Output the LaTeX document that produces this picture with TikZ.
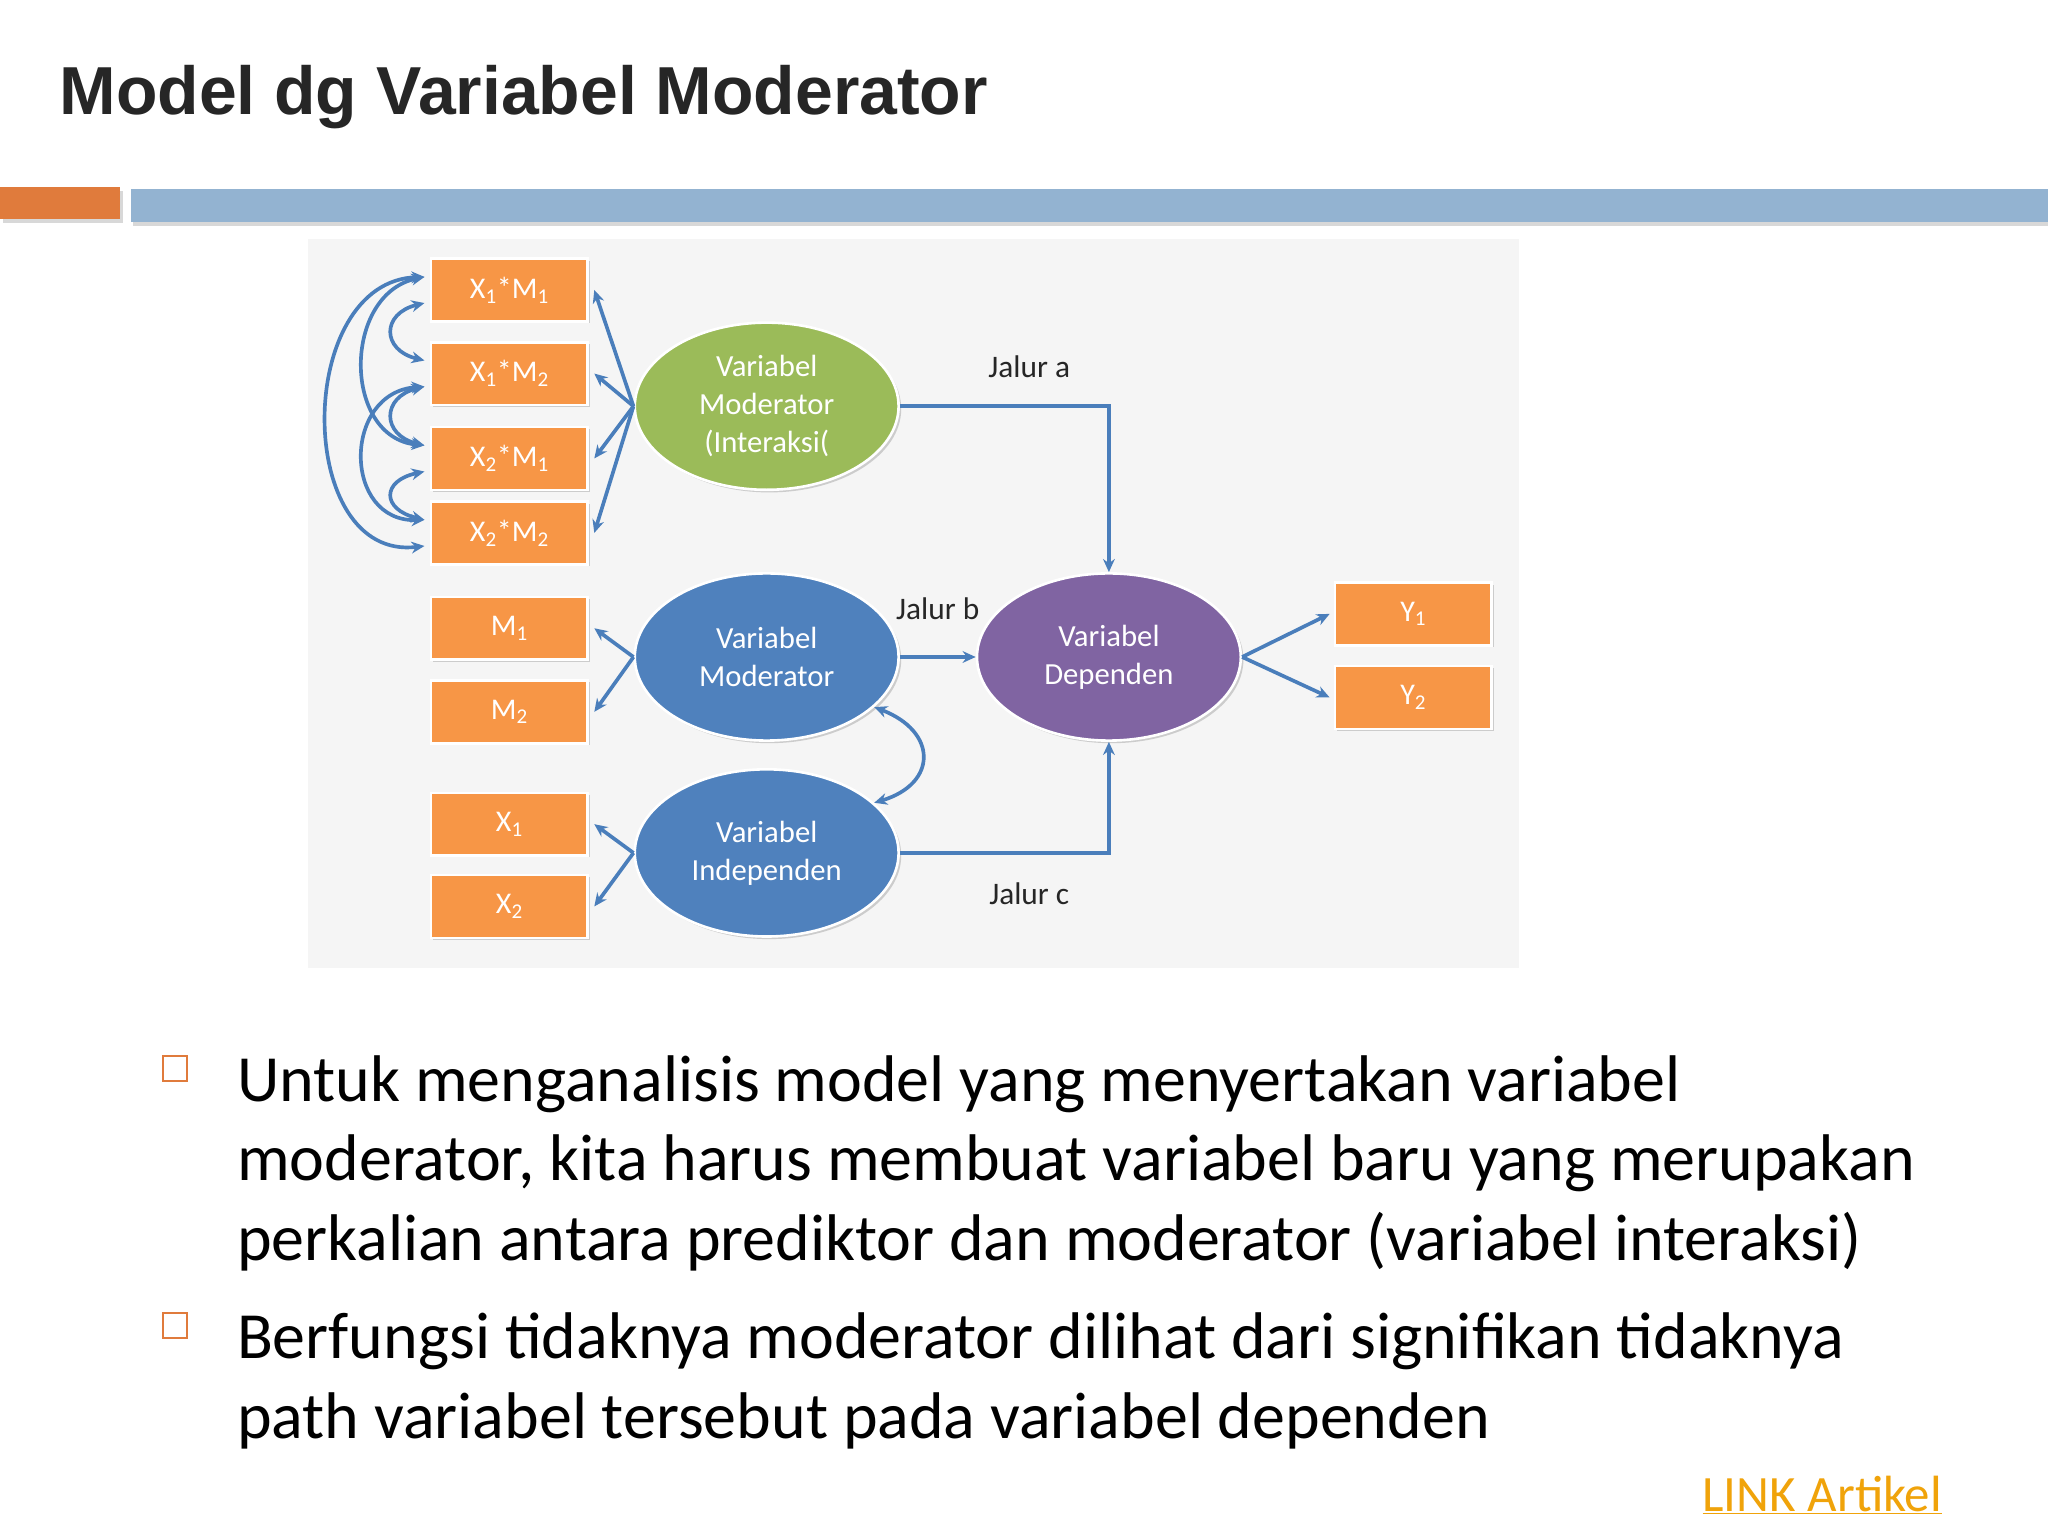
\documentclass[tikz,border=0pt]{standalone}
\usepackage{fontspec}
\setmainfont{Carlito}
\newfontfamily\titlefont{Liberation Sans}
\usetikzlibrary{shapes.geometric,shadows,arrows.meta}
\definecolor{org}{HTML}{F79646}
\definecolor{blu}{HTML}{4F81BD}
\definecolor{grn}{HTML}{9BBB59}
\definecolor{pur}{HTML}{8064A2}
\definecolor{arr}{HTML}{4A7EBB}
\definecolor{barblue}{HTML}{93B3D1}
\definecolor{barorg}{HTML}{E07B3C}
\definecolor{linkc}{HTML}{F0A30A}
\newcommand{\sbs}[1]{\textsubscript{#1}}
\tikzset{
  box/.style={draw=white,line width=2pt,fill=org,minimum width=120pt,minimum height=48pt,inner sep=0pt,text=white,font=\fontsize{23}{25}\selectfont,drop shadow={shadow xshift=1.5pt,shadow yshift=-1.5pt,opacity=0.35}},
  ell/.style={ellipse,draw=white,line width=2pt,minimum width=202pt,minimum height=128pt,inner sep=0pt,text=white,align=center,font=\fontsize{23.5}{29}\selectfont,drop shadow={shadow xshift=2pt,shadow yshift=-2pt,opacity=0.35}},
  con/.style={draw=arr,line width=2.8pt,-{Stealth[length=10pt,width=9pt]}},
  dcon/.style={draw=arr,line width=2.8pt,{Stealth[length=10pt,width=9pt]}-{Stealth[length=10pt,width=9pt]}},
  lab/.style={font=\fontsize{24}{26}\selectfont,text=black!85},
  txt/.style={anchor=base west,font=\fontsize{50.5}{55}\selectfont,text=black},
  bul/.style={draw=barorg,line width=1.5pt,minimum size=19pt,inner sep=0pt}
}
\begin{document}
\begin{tikzpicture}[x=1pt,y=-1pt]
\useasboundingbox[fill=white] (0,0) rectangle (1568,1176);
\node[anchor=base west,font=\titlefont\bfseries\fontsize{52}{56}\selectfont,text=black!85] (title) at (42,88) {Model dg Variabel Moderator};
\fill[barorg,drop shadow={shadow xshift=2pt,shadow yshift=-3pt,opacity=0.3}] (0,143) rectangle (92,168);
\fill[barblue,drop shadow={shadow xshift=2pt,shadow yshift=-3pt,opacity=0.3}] (100,145) rectangle (1568,170);
\fill[black!4] (236,183) rectangle (1163,741);
% boxes
\node[box] (xm11) at (390,222) {X\sbs{1}*M\sbs{1}};
\node[box] (xm12) at (390,286) {X\sbs{1}*M\sbs{2}};
\node[box] (xm21) at (390,351) {X\sbs{2}*M\sbs{1}};
\node[box] (xm22) at (390,408) {X\sbs{2}*M\sbs{2}};
\node[box] (m1) at (390,481) {M\sbs{1}};
\node[box] (m2) at (390,545) {M\sbs{2}};
\node[box] (x1) at (390,631) {X\sbs{1}};
\node[box] (x2) at (390,694) {X\sbs{2}};
\node[box] (y1) at (1082,470) {Y\sbs{1}};
\node[box] (y2) at (1082,534) {Y\sbs{2}};
% ellipses
\node[ell,fill=grn] (vmi) at (587,311) {Variabel\\Moderator\\(Interaksi(};
\node[ell,fill=blu] (vm) at (587,503) {Variabel\\Moderator};
\node[ell,fill=blu] (vi) at (587,653) {Variabel\\Independen};
\node[ell,fill=pur] (vd) at (849,503) {Variabel\\Dependen};
% arrows from ellipses to boxes
\foreach \b in {xm11,xm12,xm21,xm22} \draw[con] (vmi.west) -- ([xshift=4pt]\b.east);
\foreach \b in {m1,m2} \draw[con] (vm.west) -- ([xshift=4pt]\b.east);
\foreach \b in {x1,x2} \draw[con] (vi.west) -- ([xshift=4pt]\b.east);
\foreach \b in {y1,y2} \draw[con] (vd.east) -- ([xshift=-3pt]\b.west);
% paths
\draw[con] (vmi.east) -| (vd.north);
\draw[con] (vm.east) -- (vd.west);
\draw[con] (vi.east) -| (vd.south);
\node[lab] (ja) at (788,281) {Jalur a};
\node[lab] (jb) at (718,466) {Jalur b};
\node[lab] (jc) at (788,684) {Jalur c};
\draw[dcon] (vm.-25) .. controls (718,560) and (718,600) .. (vi.25);
% left correlations
\coordinate (a1) at (325,212); \coordinate (a2) at (325,276); \coordinate (a3) at (325,341); \coordinate (a4) at (325,398);
\coordinate (b1) at (325,232); \coordinate (b2) at (325,296); \coordinate (b3) at (325,361); \coordinate (b4) at (325,418);
\draw[dcon] (b1) .. controls (292,240) and (292,268) .. (a2);
\draw[dcon] (b2) .. controls (292,304) and (292,333) .. (a3);
\draw[dcon] (b3) .. controls (292,368) and (292,390) .. (a4);
\draw[dcon] (a1) .. controls (262,225) and (262,335) .. (a3);
\draw[dcon] (b2) .. controls (262,300) and (262,400) .. (a4);
\draw[dcon] (a1) .. controls (225,215) and (225,430) .. (b4);
% bullets
\node[bul] (bu1) at (134,818) {};
\node[bul] (bu2) at (134,1015) {};
\node[txt] (t1) at (178,843) {Untuk menganalisis model yang menyertakan variabel};
\node[txt] (t2) at (178,904) {moderator, kita harus membuat variabel baru yang merupakan};
\node[txt] (t3) at (178,965) {perkalian antara prediktor dan moderator (variabel interaksi)};
\node[txt] (t4) at (178,1040) {Berfungsi tidaknya moderator dilihat dari signifikan tidaknya};
\node[txt] (t5) at (178,1101) {path variabel tersebut pada variabel dependen};
\node[anchor=base west,font=\fontsize{39}{42}\selectfont,text=linkc] (lnk) at (1300,1157) {\underline{LINK Artikel}};
\end{tikzpicture}
\end{document}
